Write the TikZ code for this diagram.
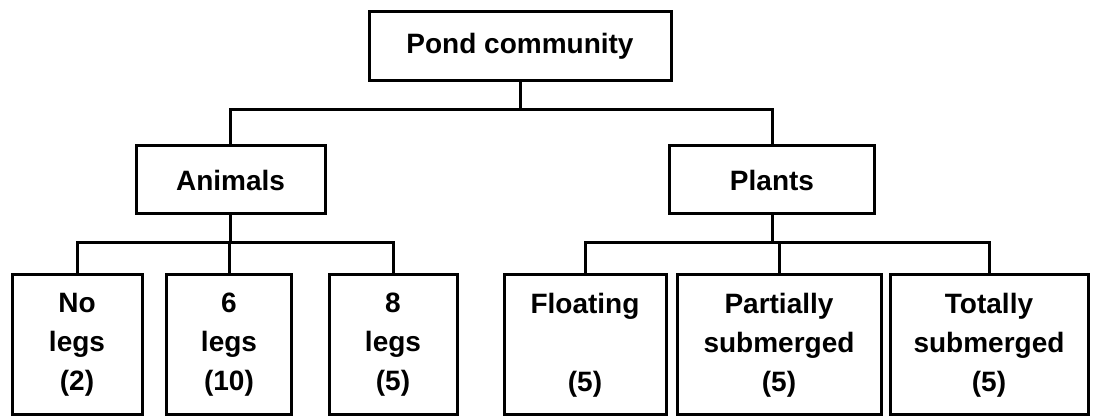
\documentclass[tikz,border=0pt]{standalone}
\usepackage{fontspec}
\setmainfont{Liberation Sans}
\newfontfamily\pondfont{Liberation Sans Bold}
\begin{document}
\begin{tikzpicture}[x=1pt,y=-1pt,
  lbl/.style={draw=black, line width=3pt, inner sep=0pt, align=center,
    font=\pondfont\fontsize{28}{39}\selectfont},
  leaf/.style={lbl, minimum height=140pt},
  wire/.style={draw=black, line width=3pt, line cap=rect}]
\fill[white] (0,0) rectangle (1093,419);
\useasboundingbox (0,0) rectangle (1093,419);
% nodes
\node[lbl, minimum width=302pt, minimum height=69pt] (pond) at (520,46.5) {Pond community};
\node[lbl, minimum width=189pt, minimum height=68pt] (animals) at (230.5,180) {Animals};
\node[lbl, minimum width=205pt, minimum height=68pt] (plants) at (772,180) {Plants};
\node[leaf, minimum width=130pt] (noleg) at (77,345) {No\\legs\\(2)};
\node[leaf, minimum width=125pt] (six) at (229,345) {6\\legs\\(10)};
\node[leaf, minimum width=128pt] (eight) at (393,345) {8\\legs\\(5)};
\node[leaf, minimum width=162pt] (float) at (585,345) {Floating\\\mbox{}\\(5)};
\node[leaf, minimum width=204pt] (part) at (779,345) {Partially\\submerged\\(5)};
\node[leaf, minimum width=198pt] (total) at (989,345) {Totally\\submerged\\(5)};
% bus junctions
\coordinate (top bus) at (520,110);
\coordinate (ani bus) at (230,243);
\coordinate (pla bus) at (777,243);
% connectors
\draw[wire] (pond.south) -- (top bus);
\draw[wire] (animals.north) |- (top bus) -| (plants.north);
\draw[wire] (animals.south) -- (animals.south |- ani bus);
\draw[wire] (noleg.north) |- (ani bus) -| (eight.north);
\draw[wire] (six.north) -- (six.north |- ani bus);
\draw[wire] (plants.south) -- (plants.south |- pla bus);
\draw[wire] (float.north) |- (pla bus) -| (total.north);
\draw[wire] (part.north) -- (part.north |- pla bus);
\end{tikzpicture}
\end{document}
